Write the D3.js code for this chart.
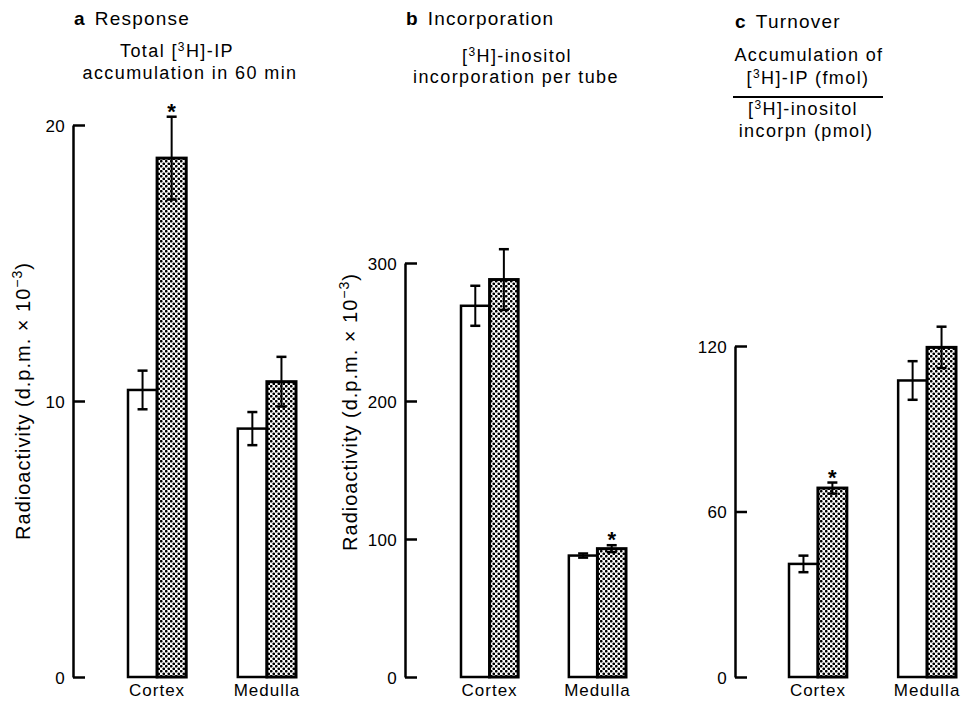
<!DOCTYPE html>
<html lang="en">
<head>
    <meta charset="UTF-8">
    <title>Response, incorporation and turnover</title>
    <script src="https://d3js.org/d3.v7.min.js"></script>
    <style>
        body {
            margin: 0;
            padding: 0;
            background: #fff;
        }
        svg {
            display: block;
            font-family: "Liberation Sans", Arial, sans-serif;
        }
        .title { font-size: 19px; letter-spacing: 1.2px; }
        .sub { font-size: 18px; letter-spacing: 1.4px; text-anchor: middle; }
        .axis path, .axis line { stroke: #000; stroke-width: 2.5px; }
        .axis text { font-size: 17px; letter-spacing: 0.3px; fill: #000; font-family: "Liberation Sans", Arial, sans-serif; }
        .cat { font-size: 17px; letter-spacing: 1px; text-anchor: middle; }
        .ylab { font-size: 20px; letter-spacing: 1px; text-anchor: middle; }
    </style>
</head>
<body>
    <svg id="chart" width="962" height="701"></svg>

    <script>
        // groups and bars (control = open bar, stimulated = stippled bar)
        const categories = ["Cortex", "Medulla"];
        const conditions = ["control", "stimulated"];

        // a Response: total [3H]-IP accumulation (d.p.m. x 10^-3)
        const responseMean = [[10.4, 18.8], [9.0, 10.7]];
        const responseErr = [[0.7, 1.5], [0.6, 0.9]];
        const responseStar = [[false, true], [false, false]];
        const responseTicks = [0, 10, 20];

        // b Incorporation: [3H]-inositol incorporation per tube (d.p.m. x 10^-3)
        const incorporationMean = [[269, 288], [88, 93]];
        const incorporationErr = [[14.5, 22], [1.5, 2.5]];
        const incorporationStar = [[false, false], [false, true]];
        const incorporationTicks = [0, 100, 200, 300];

        // c Turnover: fmol IP / pmol inositol incorporated
        const turnoverMean = [[41, 68.5], [107.5, 119.5]];
        const turnoverErr = [[3, 2], [7, 7.5]];
        const turnoverStar = [[false, true], [false, false]];
        const turnoverTicks = [0, 60, 120];

        const svg = d3.select("#chart");

        // stipple fill
        const pat = svg.append("defs").append("pattern")
            .attr("id", "stipple")
            .attr("patternUnits", "userSpaceOnUse")
            .attr("width", 5)
            .attr("height", 5);
        pat.append("rect").attr("width", 5).attr("height", 5).attr("fill", "#fff");
        pat.append("circle").attr("cx", 1.25).attr("cy", 1.25).attr("r", 1.35).attr("fill", "#000");
        pat.append("circle").attr("cx", 3.75).attr("cy", 3.75).attr("r", 1.35).attr("fill", "#000");

        function drawPanel(opts) {
            const y = d3.scaleLinear()
                .domain([0, d3.max(opts.ticks)])
                .range([677, opts.top]);

            const x = d3.scaleBand()
                .domain(categories)
                .range(opts.xRange)
                .paddingInner(0.47)
                .paddingOuter(0);

            const xs = d3.scaleBand()
                .domain(conditions)
                .range([0, x.bandwidth()]);

            const g = svg.append("g");

            g.append("g")
                .attr("class", "axis")
                .attr("transform", `translate(${opts.axisX},0)`)
                .call(d3.axisLeft(y)
                    .tickValues(opts.ticks)
                    .tickSizeInner(-12)
                    .tickSizeOuter(0)
                    .tickPadding(8))
                .call(a => a.selectAll("text").attr("dy", "0.36em"));

            const rows = [];
            categories.forEach((c, i) => {
                conditions.forEach((k, j) => {
                    rows.push({ cat: c, cond: k, mean: opts.mean[i][j], err: opts.err[i][j], star: opts.star[i][j] });
                });
            });

            g.selectAll(".bar")
                .data(rows)
                .enter()
                .append("rect")
                .attr("class", "bar")
                .attr("x", d => x(d.cat) + xs(d.cond))
                .attr("y", d => y(d.mean))
                .attr("width", xs.bandwidth())
                .attr("height", d => y(0) - y(d.mean))
                .attr("fill", d => d.cond === "control" ? "#fff" : "url(#stipple)")
                .attr("stroke", "#000")
                .attr("stroke-width", d => d.cond === "control" ? 2.5 : 3);

            const eb = g.selectAll(".err")
                .data(rows)
                .enter()
                .append("g")
                .attr("class", "err")
                .attr("transform", d => `translate(${x(d.cat) + xs(d.cond) + xs.bandwidth() / 2},0)`);

            eb.append("line")
                .attr("y1", d => y(d.mean + d.err))
                .attr("y2", d => y(d.mean - d.err))
                .attr("stroke", "#000")
                .attr("stroke-width", 2);
            eb.append("line")
                .attr("x1", -5).attr("x2", 5)
                .attr("y1", d => y(d.mean + d.err))
                .attr("y2", d => y(d.mean + d.err))
                .attr("stroke", "#000")
                .attr("stroke-width", 2.5);
            eb.append("line")
                .attr("x1", -5).attr("x2", 5)
                .attr("y1", d => y(d.mean - d.err))
                .attr("y2", d => y(d.mean - d.err))
                .attr("stroke", "#000")
                .attr("stroke-width", 2.5);
            eb.filter(d => d.star)
                .append("text")
                .attr("y", d => y(d.mean + d.err) + 2)
                .attr("text-anchor", "middle")
                .attr("font-size", "22px")
                .attr("font-weight", "bold")
                .text("*");

            g.selectAll(".cat")
                .data(categories)
                .enter()
                .append("text")
                .attr("class", "cat")
                .attr("x", d => x(d) + x.bandwidth() / 2)
                .attr("y", 696)
                .text(d => d);
        }

        drawPanel({ axisX: 73, top: 125, xRange: [128, 296], ticks: responseTicks,
            mean: responseMean, err: responseErr, star: responseStar });
        drawPanel({ axisX: 405, top: 263, xRange: [461, 626], ticks: incorporationTicks,
            mean: incorporationMean, err: incorporationErr, star: incorporationStar });
        drawPanel({ axisX: 735, top: 346, xRange: [789, 956], ticks: turnoverTicks,
            mean: turnoverMean, err: turnoverErr, star: turnoverStar });

        // titles
        function title(x, yy, letter, word) {
            const t = svg.append("text").attr("class", "title").attr("x", x).attr("y", yy);
            t.append("tspan").attr("font-weight", "bold").text(letter);
            t.append("tspan").attr("dx", 9).text(word);
        }
        title(74, 25, "a", "Response");
        title(406, 25, "b", "Incorporation");
        title(735, 28, "c", "Turnover");

        function sup(sel, before, s, after) {
            sel.append("tspan").text(before);
            sel.append("tspan").attr("dy", -6).attr("font-size", "12px").text(s);
            sel.append("tspan").attr("dy", 6).text(after);
        }

        sup(svg.append("text").attr("class", "sub").attr("x", 177).attr("y", 57), "Total [", "3", "H]-IP");
        svg.append("text").attr("class", "sub").attr("x", 190).attr("y", 79).text("accumulation in 60 min");

        sup(svg.append("text").attr("class", "sub").attr("x", 517).attr("y", 62), "[", "3", "H]-inositol");
        svg.append("text").attr("class", "sub").attr("x", 516).attr("y", 83).text("incorporation per tube");

        svg.append("text").attr("class", "sub").attr("x", 809).attr("y", 61).text("Accumulation of");
        sup(svg.append("text").attr("class", "sub").attr("x", 808).attr("y", 84), "[", "3", "H]-IP (fmol)");
        svg.append("line")
            .attr("x1", 733).attr("x2", 883)
            .attr("y1", 97).attr("y2", 97)
            .attr("stroke", "#000").attr("stroke-width", 2);
        sup(svg.append("text").attr("class", "sub").attr("x", 803).attr("y", 115), "[", "3", "H]-inositol");
        svg.append("text").attr("class", "sub").attr("x", 806).attr("y", 137).text("incorpn (pmol)");

        // y axis titles
        [[30, 401], [357, 412]].forEach(p => {
            const t = svg.append("text")
                .attr("class", "ylab")
                .attr("transform", `translate(${p[0]},${p[1]}) rotate(-90)`);
            t.append("tspan").text("Radioactivity (d.p.m. \u00d7 10");
            t.append("tspan").attr("baseline-shift", "super").attr("font-size", "14px").text("\u22123");
            t.append("tspan").text(")");
        });
    </script>
</body>
</html>
